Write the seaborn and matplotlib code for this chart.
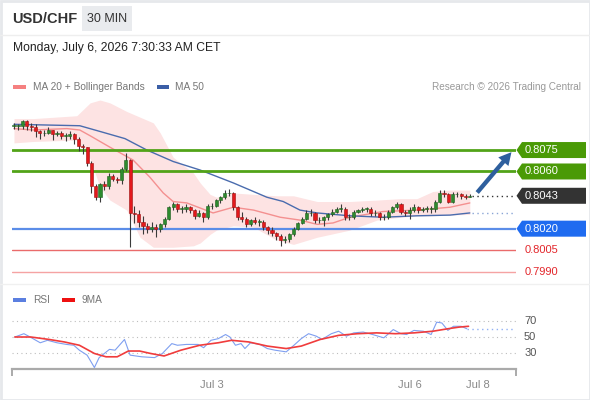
import numpy as np
import pandas as pd
import matplotlib
matplotlib.use("Agg")
import matplotlib.pyplot as plt
from matplotlib.patches import Rectangle, Polygon
import seaborn as sns

# ── Data ───────────────────────────────────────────────────────────────────────
first_open = 0.8092
closes = [0.8092, 0.8092, 0.8095, 0.8092, 0.8091, 0.8088, 0.8087, 0.8087, 0.8089, 0.8086,
          0.8087, 0.8085, 0.8085, 0.8086, 0.8083, 0.8078, 0.8077, 0.8066, 0.8050, 0.8042,
          0.8051, 0.8050, 0.8057, 0.8055, 0.8054, 0.8062, 0.8068, 0.8031, 0.8030, 0.8025,
          0.8022, 0.8020, 0.8021, 0.8020, 0.8023, 0.8027, 0.8035, 0.8037, 0.8034, 0.8034,
          0.8035, 0.8033, 0.8029, 0.8031, 0.8028, 0.8036, 0.8036, 0.8040, 0.8042, 0.8045,
          0.8045, 0.8035, 0.8028, 0.8027, 0.8023, 0.8026, 0.8025, 0.8025, 0.8021, 0.8019,
          0.8017, 0.8015, 0.8012, 0.8013, 0.8016, 0.8020, 0.8024, 0.8027, 0.8031, 0.8031,
          0.8026, 0.8026, 0.8028, 0.8030, 0.8032, 0.8034, 0.8034, 0.8028, 0.8028, 0.8032,
          0.8033, 0.8034, 0.8034, 0.8031, 0.8031, 0.8028, 0.8028, 0.8032, 0.8035, 0.8037,
          0.8032, 0.8031, 0.8033, 0.8035, 0.8033, 0.8034, 0.8034, 0.8034, 0.8039, 0.8045,
          0.8044, 0.8039, 0.8044, 0.8044, 0.8043, 0.8042, 0.8043]
highs = [0.8094, 0.8093, 0.8096, 0.8096, 0.8094, 0.8093, 0.8089, 0.8089, 0.8091, 0.8089,
         0.8088, 0.8088, 0.8087, 0.8088, 0.8087, 0.8084, 0.8079, 0.8077, 0.8067, 0.8051,
         0.8052, 0.8053, 0.8059, 0.8058, 0.8056, 0.8063, 0.8073, 0.8069, 0.8036, 0.8033,
         0.8029, 0.8024, 0.8025, 0.8023, 0.8024, 0.8028, 0.8036, 0.8039, 0.8038, 0.8036,
         0.8037, 0.8036, 0.8034, 0.8033, 0.8032, 0.8037, 0.8038, 0.8041, 0.8043, 0.8047,
         0.8048, 0.8046, 0.8036, 0.8032, 0.8028, 0.8027, 0.8028, 0.8027, 0.8026, 0.8022,
         0.8021, 0.8018, 0.8016, 0.8015, 0.8017, 0.8021, 0.8025, 0.8028, 0.8033, 0.8034,
         0.8032, 0.8028, 0.8029, 0.8031, 0.8034, 0.8035, 0.8037, 0.8035, 0.8030, 0.8033,
         0.8034, 0.8035, 0.8035, 0.8035, 0.8033, 0.8032, 0.8030, 0.8033, 0.8036, 0.8039,
         0.8038, 0.8033, 0.8035, 0.8037, 0.8036, 0.8035, 0.8036, 0.8036, 0.8040, 0.8047,
         0.8047, 0.8045, 0.8046, 0.8046, 0.8045, 0.8044, 0.8044]
lows = [0.8090, 0.8089, 0.8090, 0.8089, 0.8088, 0.8084, 0.8083, 0.8085, 0.8086, 0.8082,
        0.8085, 0.8083, 0.8081, 0.8083, 0.8079, 0.8074, 0.8072, 0.8064, 0.8045, 0.8040,
        0.8039, 0.8047, 0.8048, 0.8053, 0.8052, 0.8051, 0.8060, 0.8007, 0.8024, 0.8021,
        0.8016, 0.8017, 0.8018, 0.8014, 0.8018, 0.8021, 0.8026, 0.8033, 0.8032, 0.8031,
        0.8032, 0.8031, 0.8027, 0.8028, 0.8025, 0.8027, 0.8034, 0.8035, 0.8038, 0.8041,
        0.8043, 0.8033, 0.8026, 0.8025, 0.8021, 0.8022, 0.8023, 0.8022, 0.8019, 0.8016,
        0.8015, 0.8012, 0.8008, 0.8010, 0.8011, 0.8015, 0.8019, 0.8023, 0.8026, 0.8029,
        0.8024, 0.8024, 0.8022, 0.8026, 0.8029, 0.8031, 0.8032, 0.8026, 0.8026, 0.8027,
        0.8031, 0.8032, 0.8032, 0.8029, 0.8029, 0.8026, 0.8026, 0.8027, 0.8031, 0.8034,
        0.8030, 0.8029, 0.8027, 0.8032, 0.8031, 0.8032, 0.8032, 0.8031, 0.8032, 0.8038,
        0.8042, 0.8038, 0.8038, 0.8042, 0.8041, 0.8041, 0.8042]

ma20_x = [0, 4.5, 12.3, 15.3, 17.7, 22.3, 27.7, 31.6, 34.7, 37, 40.2, 46.3, 51, 55.7,
          61.9, 66.5, 70.5, 74.2, 78.1, 85.8, 93.7, 101.4, 106]
ma20 = [0.8090, 0.8089, 0.8090, 0.8089, 0.8085, 0.8077, 0.8068, 0.8056, 0.8045, 0.8039,
        0.8038, 0.8031, 0.8035, 0.8033, 0.8028, 0.8026, 0.8023, 0.8024, 0.8028, 0.8032,
        0.8033, 0.8035, 0.8038]

band_x = [0, 4.5, 14.6, 17.7, 20, 22.3, 26.2, 29.3, 32.4, 34, 37, 41.7, 43.3, 45.6, 47.1,
          51, 55.7, 61.1, 65, 70.5, 78.1, 84.4, 89.8, 93.7, 97.4, 101.4, 106]
band_up = [0.8097, 0.8097, 0.8099, 0.8108, 0.8110, 0.8108, 0.8102, 0.8098, 0.8094, 0.8087,
           0.8070, 0.8059, 0.8052, 0.8044, 0.8042, 0.8045, 0.8044, 0.8043, 0.8043, 0.8039,
           0.8039, 0.8040, 0.8041, 0.8041, 0.8046, 0.8047, 0.8047]
band_lo = [0.8080, 0.8081, 0.8082, 0.8069, 0.8049, 0.8040, 0.8033, 0.8014, 0.8007, 0.8007,
           0.8007, 0.8008, 0.8010, 0.8016, 0.8019, 0.8022, 0.8021, 0.8012, 0.8009, 0.8014,
           0.8019, 0.8026, 0.8028, 0.8029, 0.8029, 0.80295, 0.8030]

ma50_x = [0, 15.3, 20, 25.8, 30.9, 37, 43.3, 51, 54.9, 58.8, 62.6, 66.5, 70.5, 78.1, 85.8,
          93.7, 101.4, 106]
ma50 = [0.8093, 0.8092, 0.8088, 0.8083, 0.8075, 0.8067, 0.8061, 0.8052, 0.8047, 0.8042,
        0.8039, 0.8033, 0.8031, 0.8029, 0.8028, 0.8029, 0.80295, 0.8031]

levels = [0.8075, 0.8060, 0.8020, 0.8005, 0.7990]
level_labels = ["0.8075", "0.8060", "0.8020", "0.8005", "0.7990"]
last_label = "0.8043"

rsi_x = [0.2, 2.3, 3.4, 6.1, 7.8, 10.0, 12.2, 13.9, 15.2, 17.0, 18.7, 19.8, 22.2, 23.5,
         25.7, 27.0, 29.7, 32.7, 34.5, 36.7, 38.0, 40.1, 42.8, 44.1, 45.8, 47.5, 49.2, 50.2,
         51.5, 52.8, 53.7, 55.0, 57.2, 58.9, 60.7, 63.3, 65.1, 66.8, 68.5, 70.3, 71.6, 73.8,
         75.5, 77.3, 79.0, 81.2, 83.4, 86.0, 88.2, 90.0, 91.3, 93.0, 95.2, 97.0, 98.3, 99.5,
         100.9, 102.2, 104.0, 105.3]
rsi = [50, 54, 51, 43, 46, 43, 41, 40, 34, 28, 13, 25, 35, 34, 47, 28, 26, 25, 30, 42,
       40, 41, 41, 37, 46, 48, 53, 50, 40, 42, 36, 43, 41, 36, 34, 32, 40, 48, 54, 51,
       47, 54, 57, 51, 55, 56, 53, 49, 59, 54, 53, 58, 57, 53, 68, 67, 58, 63, 63, 60]
ma9_x = [0.2, 3.9, 8.2, 11.7, 15.2, 18.7, 21.4, 24.0, 26.6, 29.2, 31.8, 34.9, 38.8, 43.2,
         47.5, 50.6, 54.6, 58.9, 63.3, 66.8, 71.2, 75.5, 79.9, 84.3, 88.7, 93.0, 97.4,
         100.9, 103.5, 105.7]
ma9 = [50, 50, 47, 44, 40, 30, 26, 26, 33, 33, 30, 27, 34, 40, 43, 46, 44, 39, 36, 39,
       47, 52, 54, 55, 54, 55, 57, 60, 62, 63]
rsi_levels = [70, 50, 30]

date_pos = [46, 92.1, 107.9]
date_labels = ["Jul 3", "Jul 6", "Jul 8"]

# ── Frame ──────────────────────────────────────────────────────────────────────
df = pd.DataFrame({"close": closes, "high": highs, "low": lows})
df["open"] = df["close"].shift(1).fillna(first_open)
df["idx"] = np.arange(len(df))
df["up"] = df["close"] >= df["open"]

sns.set_style("white")
plt.rcParams["font.family"] = ["Liberation Sans", "DejaVu Sans"]

W, H = 590, 400
fig = plt.figure(figsize=(W / 100, H / 100), dpi=100)
fig.patch.set_facecolor("white")


def rect(x0, y0, x1, y1):
    return [x0 / W, 1 - y1 / H, (x1 - x0) / W, (y1 - y0) / H]


XLIM = (-0.465, 116.74)
ax = fig.add_axes(rect(12, 95, 516, 285))
rx = fig.add_axes(rect(12, 305, 516, 369))
for a in (ax, rx):
    a.set_facecolor("none")
    a.set_xlim(*XLIM)
ax.set_ylim(0.79806, 0.81135)
rx.set_ylim(11.2, 88.8)

# ── Price panel ────────────────────────────────────────────────────────────────
ax.fill_between(band_x, band_lo, band_up, color="#fde3e3", lw=0, zorder=1)
sns.lineplot(x=ma20_x, y=ma20, ax=ax, color="#f49090", lw=1, zorder=2)
sns.lineplot(x=ma50_x, y=ma50, ax=ax, color="#4a6cae", lw=1, zorder=2)

level_colors = ["#52a318", "#52a318", "#5b8de8", "#ea6b6b", "#f5a3a3"]
level_widths = [2, 2, 1.6, 1, 1]
for lv, c, w in zip(levels, level_colors, level_widths):
    ax.axhline(lv, color=c, lw=w, zorder=2.5)

ax.vlines(df["idx"], df["low"], df["high"], color="#3a3a3a", lw=0.8, zorder=3)
body = (df["close"] - df["open"]).abs().clip(lower=0.00002)
ax.bar(df["idx"], body, bottom=df[["open", "close"]].min(axis=1), width=0.72,
       color=np.where(df["up"], "#2e8b2e", "#e3191c"),
       edgecolor=np.where(df["up"], "#1f5f1f", "#9c1010"), lw=0.4, zorder=4)

n = len(df)
ax.hlines(closes[-1], n - 0.5, XLIM[1], colors="#333333", linestyles=(0, (1, 2.5)), lw=1)
ax.hlines(ma50[-1], n - 0.5, XLIM[1] - 0.5, colors="#8aa5d6", linestyles=(0, (1, 2.5)), lw=1)

ax.annotate("", xy=(116.1, 0.8075), xytext=(107.3, 0.80438),
            arrowprops=dict(arrowstyle="simple,head_length=0.75,head_width=0.8,tail_width=0.26",
                            color="#2e5f9e", lw=0, mutation_scale=12),
            annotation_clip=False, zorder=6)
ax.set_xticks([])
ax.set_yticks([])
sns.despine(ax=ax, left=True, bottom=True)

# ── RSI panel ──────────────────────────────────────────────────────────────────
for lv in rsi_levels:
    rx.axhline(lv, color="#bdbdbd", lw=0.8, linestyle=(0, (1, 3)), zorder=1)
    rx.text(1.016, lv, str(lv), transform=rx.get_yaxis_transform(), ha="left",
            va="center", fontsize=8, color="#555555")
sns.lineplot(x=rsi_x, y=rsi, ax=rx, color="#7f9ff0", lw=0.8, zorder=3)
sns.lineplot(x=ma9_x, y=ma9, ax=rx, color="#f03c3c", lw=1.2, zorder=4)
rx.hlines(rsi[-1], rsi_x[-1], XLIM[1], colors="#8fb0f5", linestyles=(0, (1, 2.5)), lw=1)

rx.set_yticks([])
rx.set_xticks(date_pos, date_labels)
rx.set_xticks([XLIM[0] + 0.05, XLIM[1] - 0.05], minor=True)
rx.tick_params(axis="x", which="major", bottom=True, length=0, pad=8, labelsize=8,
               labelcolor="#888888")
rx.tick_params(axis="x", which="minor", bottom=True, length=5, width=1.4, color="#aaaaaa",
               direction="out")
sns.despine(ax=rx, left=True)
rx.spines["bottom"].set_color("#aaaaaa")
rx.spines["bottom"].set_linewidth(1.6)
rx.set_xlabel("")

# ── Overlay: header, legends, price tags ───────────────────────────────────────
ov = fig.add_axes([0, 0, 1, 1], zorder=10)
ov.set_xlim(0, W)
ov.set_ylim(H, 0)
ov.axis("off")
ov.set_facecolor("none")

ov.add_patch(Rectangle((0.5, 0.5), W - 1, H - 1, fill=False, ec="#e6e8eb", lw=2))
ov.plot([0, W], [35, 35], color="#eeeeee", lw=1)
ov.plot([0, W], [284, 284], color="#f0f0f0", lw=1)

ov.text(12, 19, "USD/CHF", fontsize=10.5, fontweight="bold", color="#333333", va="center")
ov.add_patch(Rectangle((82, 6), 50, 25, color="#e9ebee", lw=0))
ov.text(107, 19, "30 MIN", fontsize=9, color="#333333", ha="center", va="center")
ov.text(13, 48, "Monday, July 6, 2026 7:30:33 AM CET", fontsize=8.7, color="#222222",
        va="center")

ov.add_patch(Rectangle((13, 84.5), 13, 4, color="#f58080", lw=0))
ov.text(33, 86.5, "MA 20 + Bollinger Bands", fontsize=7.3, color="#777777", va="center")
ov.add_patch(Rectangle((157, 84.5), 12, 4, color="#3b5ea6", lw=0))
ov.text(175, 86.5, "MA 50", fontsize=7.3, color="#777777", va="center")
ov.text(581, 86.5, "Research \u00a9 2026 Trading Central", fontsize=7.2, color="#999999",
        ha="right", va="center")

ov.add_patch(Rectangle((13, 298), 13, 4, color="#5b7fe0", lw=0))
ov.text(33, 300, "RSI", fontsize=7.3, color="#777777", va="center")
ov.add_patch(Rectangle((62, 298), 13, 4, color="#ee1111", lw=0))
ov.text(82, 300, "9MA", fontsize=7.3, color="#777777", va="center")


def price_px(p):
    return H - ax.transData.transform((0, p))[1]


tags = [(levels[0], level_labels[0], "#4a9a06"),
        (levels[1], level_labels[1], "#4a9a06"),
        (closes[-1], last_label, "#333333"),
        (levels[2], level_labels[2], "#1f6bf0")]
for p, lab, c in tags:
    yc = price_px(p)
    ov.add_patch(Polygon([(516.5, yc), (522, yc - 8), (586, yc - 8), (586, yc + 8), (522, yc + 8)],
                         closed=True, color=c, lw=0))
    ov.text(525, yc, lab, fontsize=8, color="white", va="center")
for p, lab in zip(levels[3:], level_labels[3:]):
    ov.text(525, price_px(p), lab, fontsize=8, color="#e3262b", va="center")

fig.savefig("out.png", dpi=100)
